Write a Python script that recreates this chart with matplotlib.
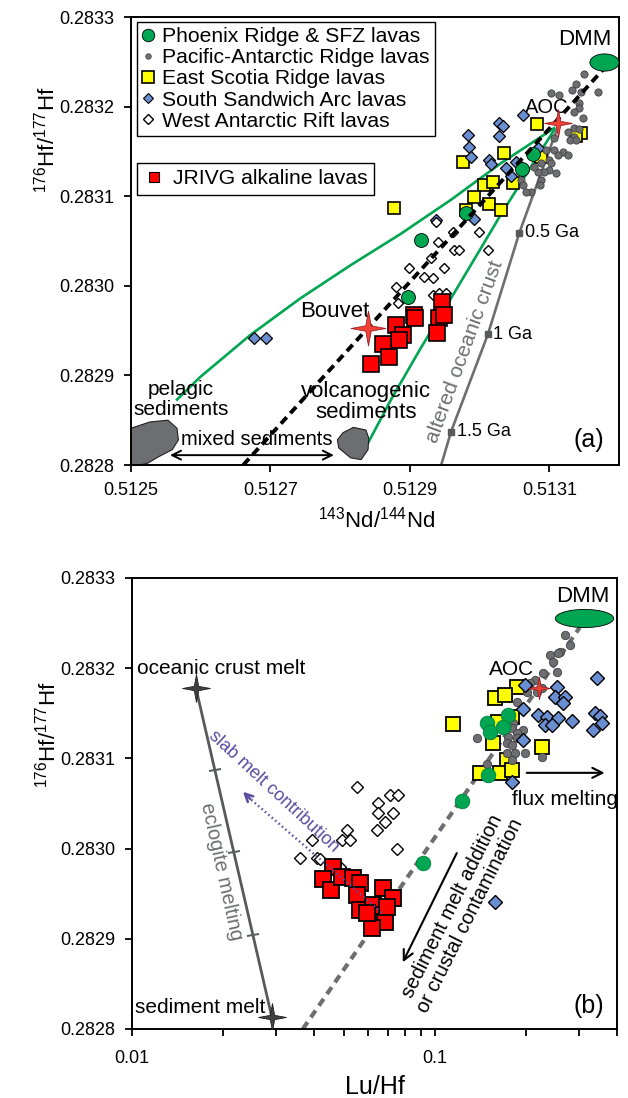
import numpy as np
import matplotlib
matplotlib.use('Agg')
import matplotlib.pyplot as plt
from matplotlib.lines import Line2D
from matplotlib.path import Path
from matplotlib.patches import Polygon
from matplotlib.markers import MarkerStyle
from matplotlib.transforms import Affine2D
from matplotlib.ticker import FormatStrFormatter, LogLocator, NullFormatter

plt.rcParams['font.family'] = ['Liberation Sans', 'DejaVu Sans']
plt.rcParams['mathtext.default'] = 'regular'

GREEN = '#00A651'
GREY = '#6D6E71'
DGREY = '#58595B'
YELLOW = '#FFFF00'
BLUE = '#6A8ED2'
RED = '#FF0000'
STAR_RED = '#EF4136'
PURPLE = '#5B4DA0'

# ---------------- panel (a): 143Nd/144Nd vs 176Hf/177Hf ----------------
phx_nd = [0.513076, 0.513061, 0.512981, 0.512916, 0.512897]
phx_hf = [0.283147, 0.283130, 0.283081, 0.283051, 0.282987]

par_nd = [0.513150, 0.513139, 0.513132, 0.513146, 0.513170, 0.513103, 0.513114, 0.513142,
          0.513143, 0.513135, 0.513149, 0.513136, 0.513142, 0.513127, 0.513135, 0.513129,
          0.513139, 0.513107, 0.513107, 0.513120, 0.513127, 0.513113, 0.513096, 0.513099,
          0.513103, 0.513088, 0.513100, 0.513110, 0.513093, 0.513084, 0.513088, 0.513086,
          0.513074, 0.513060, 0.513063, 0.513067, 0.513078]
par_hf = [0.283236, 0.283225, 0.283219, 0.283216, 0.283216, 0.283215, 0.283213, 0.283204,
          0.283198, 0.283194, 0.283187, 0.283176, 0.283175, 0.283172, 0.283166, 0.283163,
          0.283163, 0.283165, 0.283152, 0.283149, 0.283146, 0.283146, 0.283152, 0.283140,
          0.283137, 0.283137, 0.283129, 0.283126, 0.283127, 0.283127, 0.283118, 0.283112,
          0.283105, 0.283118, 0.283112, 0.283105, 0.283133]

esr_nd = [0.513083, 0.513145, 0.513139, 0.513035, 0.513088, 0.512976, 0.513006, 0.513019,
          0.513048, 0.512992, 0.513014, 0.513031, 0.512877, 0.512981]
esr_hf = [0.283181, 0.283171, 0.283167, 0.283148, 0.283144, 0.283138, 0.283112, 0.283116,
          0.283115, 0.283099, 0.283091, 0.283085, 0.283087, 0.283085]

ssa_nd = [0.513063, 0.513028, 0.513034, 0.513028, 0.512983, 0.512985, 0.512988, 0.513014,
          0.513017, 0.513038, 0.513052, 0.513045, 0.513084, 0.512937, 0.512992, 0.512676,
          0.512693]
ssa_hf = [0.283191, 0.283182, 0.283178, 0.283167, 0.283168, 0.283155, 0.283144, 0.283140,
          0.283136, 0.283131, 0.283138, 0.283123, 0.283154, 0.283073, 0.283075, 0.282942,
          0.282942]

war_nd = [0.512937, 0.512962, 0.512999, 0.512940, 0.512963, 0.512970, 0.513012, 0.512930,
          0.512899, 0.512949, 0.512933, 0.512920, 0.512880, 0.512933, 0.512942, 0.512952,
          0.512883]
war_hf = [0.283071, 0.283060, 0.283060, 0.283049, 0.283040, 0.283040, 0.283040, 0.283031,
          0.283020, 0.283020, 0.283009, 0.283010, 0.282999, 0.282990, 0.282992, 0.282992,
          0.282981]

jr_nd = [0.512946, 0.512942, 0.512949, 0.512939, 0.512906, 0.512907, 0.512880, 0.512890,
         0.512884, 0.512861, 0.512870, 0.512844]
jr_hf = [0.282982, 0.282964, 0.282967, 0.282947, 0.282967, 0.282964, 0.282956, 0.282945,
         0.282940, 0.282935, 0.282921, 0.282913]

# mixing lines / reference components
mix_nd = [0.512661, 0.513192]
mix_hf = [0.282800, 0.283254]
pel_curve_nd = [0.513107, 0.513031, 0.512959, 0.512887, 0.512815, 0.512743, 0.512671, 0.512599, 0.512566]
pel_curve_hf = [0.283176, 0.283137, 0.283096, 0.283058, 0.283023, 0.282986, 0.282945, 0.282898, 0.282873]
vol_curve_nd = [0.513107, 0.513031, 0.512959, 0.512916, 0.512873, 0.512841]
vol_curve_hf = [0.283174, 0.283080, 0.282986, 0.282931, 0.282873, 0.282826]
aoc_line_nd = [0.513113, 0.513057, 0.513012, 0.512959, 0.512945]
aoc_line_hf = [0.283179, 0.283059, 0.282946, 0.282837, 0.282800]
age_nd = [0.513057, 0.513012, 0.512959]
age_hf = [0.283059, 0.282946, 0.282837]
age_labels = ['0.5 Ga', '1 Ga', '1.5 Ga']
pel_nd = [0.51250, 0.512527, 0.512553, 0.512566, 0.512568, 0.512559, 0.512539, 0.512524, 0.512513, 0.51250]
pel_hf = [0.282841, 0.282848, 0.282850, 0.282841, 0.282828, 0.282817, 0.282809, 0.282802, 0.282800, 0.282800]
vol_nd = [0.512804, 0.512819, 0.512837, 0.512841, 0.512840, 0.512830, 0.512815, 0.512798, 0.512796]
vol_hf = [0.282836, 0.282842, 0.282839, 0.282830, 0.282817, 0.282806, 0.282808, 0.282819, 0.282828]
mixsed_nd = [0.512556, 0.512791]
mixsed_hf = 0.282811
dmm_a = (0.513178, 0.283250)
aoc_a = (0.513113, 0.283182)
bouvet = (0.512840, 0.282953)

# ---------------- panel (b): Lu/Hf vs 176Hf/177Hf ----------------
phx_luhf = [0.1484, 0.1518, 0.1741, 0.1676, 0.1495, 0.1227, 0.0913]
phx_hf_b = [0.283139, 0.283129, 0.283148, 0.283135, 0.283082, 0.283053, 0.282984]

esr_luhf = [0.1864, 0.1577, 0.1701, 0.1146, 0.1614, 0.1795, 0.1553, 0.2254, 0.1728, 0.1407,
            0.1638, 0.1795]
esr_hf_b = [0.283179, 0.283167, 0.283170, 0.283138, 0.283140, 0.283146, 0.283117, 0.283113,
            0.283098, 0.283084, 0.283084, 0.283087]

ssa_luhf = [0.3421, 0.1981, 0.2526, 0.2488, 0.2683, 0.2643, 0.1951, 0.2187, 0.2341, 0.2545,
            0.2830, 0.2306, 0.2432, 0.3370, 0.3500, 0.3319, 0.3553, 0.1951, 0.1795, 0.1577]
ssa_hf_b = [0.283189, 0.283181, 0.283179, 0.283168, 0.283168, 0.283161, 0.283155, 0.283148,
            0.283146, 0.283145, 0.283141, 0.283137, 0.283137, 0.283150, 0.283147, 0.283132,
            0.283139, 0.283120, 0.283074, 0.282941]

par_luhf = [0.2683, 0.2787, 0.2584, 0.2395, 0.2545, 0.2450, 0.2526, 0.2271, 0.2137, 0.2058,
            0.2254, 0.2011, 0.2170, 0.1864, 0.1808, 0.1951, 0.1795, 0.1864, 0.1741, 0.1375,
            0.1728, 0.1864, 0.1795, 0.1728, 0.1836, 0.1981, 0.2254, 0.1484, 0.1795]
par_hf_b = [0.283237, 0.283226, 0.283218, 0.283215, 0.283217, 0.283207, 0.283196, 0.283195,
            0.283187, 0.283184, 0.283178, 0.283174, 0.283174, 0.283163, 0.283139, 0.283131,
            0.283134, 0.283128, 0.283124, 0.283123, 0.283117, 0.283123, 0.283115, 0.283106,
            0.283106, 0.283106, 0.283102, 0.283094, 0.283098]

war_luhf = [0.05531, 0.07106, 0.07551, 0.06488, 0.06488, 0.07270, 0.06841, 0.06439, 0.05127,
            0.04936, 0.05245, 0.03931, 0.07494, 0.03588, 0.04083, 0.04177, 0.04862]
war_hf_b = [0.283068, 0.283059, 0.283059, 0.283051, 0.283039, 0.283039, 0.283029, 0.283021,
            0.283021, 0.283010, 0.283010, 0.283010, 0.283000, 0.282990, 0.282990, 0.282988,
            0.282980]

jr_luhf = [0.04610, 0.04274, 0.04541, 0.04936, 0.05366, 0.05658, 0.05531, 0.05658, 0.06246,
           0.06246, 0.06738, 0.07270, 0.06841, 0.06199, 0.06946, 0.05968]
jr_hf_b = [0.282980, 0.282966, 0.282954, 0.282969, 0.282967, 0.282962, 0.282949, 0.282932,
           0.282937, 0.282926, 0.282956, 0.282945, 0.282919, 0.282912, 0.282935, 0.282929]

mantle_luhf = [0.0367, 0.3007]
mantle_hf = [0.282800, 0.283245]
eclog_luhf = [0.01629, 0.02901]
eclog_hf = [0.283178, 0.282813]
eclog_tick_luhf = [0.01882, 0.02174, 0.02512]
eclog_tick_hf = [0.283087, 0.282996, 0.282904]
slab_luhf = [0.06688, 0.02464]
slab_hf = [0.282929, 0.283055]
slab_head = (0.02328, 0.283063)
flux_luhf = [0.2011, 0.3635]
flux_hf = 0.283084
sedadd_luhf = [0.1182, 0.07843]
sedadd_hf = [0.282995, 0.282874]
dmm_b = (0.3099, 0.283256)
aoc_b = (0.2202, 0.283178)

hf_ticks = [0.2828, 0.2829, 0.2830, 0.2831, 0.2832, 0.2833]


def star_path(inner=0.22):
    ang = np.pi / 2 + np.arange(8) * np.pi / 4
    r = np.where(np.arange(8) % 2 == 0, 1.0, inner)
    v = np.column_stack([r * np.cos(ang), r * np.sin(ang)])
    v = np.vstack([v, v[:1]])
    return Path(v, [Path.MOVETO] + [Path.LINETO] * 7 + [Path.CLOSEPOLY])


def ellipse_path(aspect):
    t = np.linspace(0, 2 * np.pi, 80)
    return Path(np.column_stack([np.cos(t), aspect * np.sin(t)]), closed=True)


STAR = star_path()


def style_axes(ax, xpad):
    for s in ax.spines.values():
        s.set_linewidth(1.4)
    ax.tick_params(which='both', direction='out', length=5, width=1.3,
                   labelsize=13, top=False, right=False)
    ax.tick_params(axis='y', pad=7)
    ax.tick_params(axis='x', which='both', pad=xpad)
    ax.set_yticks(hf_ticks)
    ax.yaxis.set_major_formatter(FormatStrFormatter('%.4f'))


fig = plt.figure(figsize=(6.28, 10.98), dpi=100)
ax1 = fig.add_axes([131 / 628, 1 - 465 / 1098, 488 / 628, 448 / 1098])
ax2 = fig.add_axes([131.7 / 628, 1 - 1029 / 1098, 485.5 / 628, 451 / 1098])

# ----- panel (a) -----
ax1.set_xlim(0.5125, 0.5132)
ax1.set_ylim(0.2828, 0.2833)
style_axes(ax1, 7)
ax1.set_xticks([0.5125, 0.5127, 0.5129, 0.5131])
ax1.xaxis.set_major_formatter(FormatStrFormatter('%.4f'))

ax1.plot(pel_curve_nd, pel_curve_hf, color=GREEN, lw=1.9, zorder=2)
ax1.plot(vol_curve_nd, vol_curve_hf, color=GREEN, lw=1.9, zorder=2)
ax1.plot(aoc_line_nd, aoc_line_hf, color=GREY, lw=1.9, zorder=2)
ax1.plot(age_nd, age_hf, 's', color=DGREY, ms=4.5, zorder=3)
for x, y, lab in zip(age_nd, age_hf, age_labels):
    ax1.annotate(lab, (x, y), xytext=(4, 0), textcoords='offset points',
                 fontsize=13, va='center', ha='left')
ax1.add_patch(Polygon(np.column_stack([pel_nd, pel_hf]), closed=True, fc=GREY,
                      ec='#231F20', lw=0.8, zorder=2))
ax1.add_patch(Polygon(np.column_stack([vol_nd, vol_hf]), closed=True, fc=GREY,
                      ec='#231F20', lw=0.8, zorder=2))
ax1.annotate('', xy=(mixsed_nd[1], mixsed_hf), xytext=(mixsed_nd[0], mixsed_hf),
             arrowprops=dict(arrowstyle='<->', lw=1.4, color='k', mutation_scale=16,
                             shrinkA=0, shrinkB=0), zorder=3)

ax1.plot(esr_nd, esr_hf, 's', mfc=YELLOW, mec='k', mew=1.2, ms=8.5, zorder=4)
ax1.plot(ssa_nd, ssa_hf, 'D', mfc=BLUE, mec='k', mew=0.9, ms=6.0, zorder=5)
ax1.plot(par_nd, par_hf, 'o', mfc=GREY, mec='#414042', mew=0.6, ms=5.2, zorder=5)
ax1.plot(phx_nd, phx_hf, 'o', mfc=GREEN, mec='k', mew=0.6, ms=10, zorder=6)
ax1.plot(war_nd, war_hf, 'D', mfc='white', mec='k', mew=1.0, ms=5.6, zorder=5)
ax1.plot(mix_nd, mix_hf, color='k', lw=2.8, ls=(0, (2.2, 1.4)), zorder=6)
ax1.plot(jr_nd, jr_hf, 's', mfc=RED, mec='k', mew=1.2, ms=11, zorder=7)
ax1.plot(*dmm_a, marker=ellipse_path(0.59), ms=21, mfc=GREEN, mec='k', mew=0.6, zorder=7)
ax1.plot(*aoc_a, marker=STAR, ms=20, mfc=STAR_RED, mec='#9E1F24', mew=0.6, zorder=8)
ax1.plot(*bouvet, marker=STAR, ms=25, mfc=STAR_RED, mec='#9E1F24', mew=0.6, zorder=8)

ax1.text(0.930, 0.949, 'DMM', transform=ax1.transAxes, fontsize=16, ha='center', va='center')
ax1.text(0.852, 0.797, 'AOC', transform=ax1.transAxes, fontsize=14.5, ha='center', va='center')
ax1.text(0.418, 0.342, 'Bouvet', transform=ax1.transAxes, fontsize=16, ha='center', va='center')
ax1.text(0.102, 0.147, 'pelagic\nsediments', transform=ax1.transAxes, fontsize=15,
         ha='center', va='center', linespacing=1.05)
ax1.text(0.4816, 0.1406, 'volcanogenic\nsediments', transform=ax1.transAxes, fontsize=16,
         ha='center', va='center', linespacing=1.0)
ax1.text(0.258, 0.056, 'mixed sediments', transform=ax1.transAxes, fontsize=14.5,
         ha='center', va='center')
ax1.text(0.684, 0.252, 'altered oceanic crust', transform=ax1.transAxes, fontsize=15,
         color=GREY, ha='center', va='center', rotation=70, rotation_mode='anchor')
ax1.text(0.9385, 0.056, '(a)', transform=ax1.transAxes, fontsize=18, ha='center', va='center')

h = [Line2D([], [], ls='none', marker='o', mfc=GREEN, mec='k', mew=0.6, ms=9),
     Line2D([], [], ls='none', marker='o', mfc=GREY, mec='#414042', mew=0.5, ms=4),
     Line2D([], [], ls='none', marker='s', mfc=YELLOW, mec='k', mew=1.2, ms=8),
     Line2D([], [], ls='none', marker='D', mfc=BLUE, mec='k', mew=0.8, ms=5),
     Line2D([], [], ls='none', marker='D', mfc='white', mec='k', mew=1.0, ms=5)]
labels = ['Phoenix Ridge & SFZ lavas', 'Pacific-Antarctic Ridge lavas', 'East Scotia Ridge lavas',
          'South Sandwich Arc lavas', 'West Antarctic Rift lavas']
leg1 = ax1.legend(h, labels, loc='upper left', bbox_to_anchor=(0.012, 0.989), borderaxespad=0,
                  fontsize=15.2, frameon=True, fancybox=False, framealpha=1, edgecolor='k',
                  handlelength=0.6, handletextpad=0.35, labelspacing=0.1, borderpad=0.25)
leg1.get_frame().set_linewidth(1.0)
ax1.add_artist(leg1)
h2 = [Line2D([], [], ls='none', marker='s', mfc=RED, mec='k', mew=0.8, ms=6.5)]
leg2 = ax1.legend(h2, ['JRIVG alkaline lavas'], loc='upper left', bbox_to_anchor=(0.012, 0.674),
                  borderaxespad=0, fontsize=15.2, frameon=True, fancybox=False, framealpha=1,
                  edgecolor='k', handlelength=1.0, handletextpad=0.4, borderpad=0.3)
leg2.get_frame().set_linewidth(1.0)

ax1.set_xlabel('$^{143}$Nd/$^{144}$Nd', fontsize=16)
ax1.set_ylabel('$^{176}$Hf/$^{177}$Hf', fontsize=16)
ax1.xaxis.set_label_coords(0.504, -0.092)
ax1.yaxis.set_label_coords(-0.146, 0.725)

# ----- panel (b) -----
ax2.set_xscale('log')
ax2.set_xlim(0.01, 0.4)
ax2.set_ylim(0.2828, 0.2833)
style_axes(ax2, 10)
ax2.set_xticks([0.01, 0.1], ['0.01', '0.1'])
ax2.xaxis.set_minor_locator(LogLocator(base=10, subs=np.arange(2, 10)))
ax2.xaxis.set_minor_formatter(NullFormatter())

ax2.plot(mantle_luhf, mantle_hf, color=GREY, lw=3.0, ls=(0, (2.0, 1.4)), zorder=2)
ax2.plot(eclog_luhf, eclog_hf, color=DGREY, lw=2.0, zorder=2)
tick_mk = MarkerStyle('_', transform=Affine2D().rotate_deg(13))
ax2.plot(eclog_tick_luhf, eclog_tick_hf, ls='none', marker=tick_mk, ms=9, mew=1.4,
         color=DGREY, zorder=2)
ax2.plot(eclog_luhf, eclog_hf, ls='none', marker=STAR, ms=20, mfc='#414042', mec='#231F20',
         mew=0.6, zorder=3)

ax2.plot(esr_luhf, esr_hf_b, 's', mfc=YELLOW, mec='k', mew=1.3, ms=10.5, zorder=3)
ax2.plot(par_luhf, par_hf_b, 'o', mfc=GREY, mec='#414042', mew=0.6, ms=6, zorder=4)
ax2.plot(ssa_luhf, ssa_hf_b, 'D', mfc=BLUE, mec='k', mew=1.0, ms=7, zorder=5)
ax2.plot(phx_luhf, phx_hf_b, 'o', mfc=GREEN, mec='#00803D', mew=0.6, ms=10.5, zorder=6)
ax2.plot(war_luhf, war_hf_b, 'D', mfc='white', mec='k', mew=1.0, ms=6.5, zorder=5)
ax2.plot(jr_luhf, jr_hf_b, 's', mfc=RED, mec='k', mew=1.3, ms=12, zorder=7)
ax2.plot(slab_luhf, slab_hf, color=PURPLE, lw=1.8, ls=(0, (0.6, 1.2)), zorder=8)
ax2.annotate('', xy=slab_head, xytext=(slab_luhf[1], slab_hf[1]),
             arrowprops=dict(arrowstyle='->', lw=1.8, color=PURPLE, mutation_scale=14,
                             shrinkA=0, shrinkB=0), zorder=8)
ax2.plot(*dmm_b, marker=ellipse_path(0.31), ms=42, mfc=GREEN, mec='k', mew=0.6, zorder=7)
ax2.plot(*aoc_b, marker=STAR, ms=16, mfc=STAR_RED, mec='#9E1F24', mew=0.6, zorder=8)
ax2.annotate('', xy=(flux_luhf[1], flux_hf), xytext=(flux_luhf[0], flux_hf),
             arrowprops=dict(arrowstyle='->', lw=1.5, color='k', mutation_scale=18,
                             shrinkA=0, shrinkB=0), zorder=8)
ax2.annotate('', xy=(sedadd_luhf[1], sedadd_hf[1]), xytext=(sedadd_luhf[0], sedadd_hf[0]),
             arrowprops=dict(arrowstyle='->', lw=1.5, color='k', mutation_scale=18,
                             shrinkA=0, shrinkB=0), zorder=8)

ax2.text(0.9297, 0.960, 'DMM', transform=ax2.transAxes, fontsize=16, ha='center', va='center')
ax2.text(0.7833, 0.798, 'AOC', transform=ax2.transAxes, fontsize=15, ha='center', va='center')
ax2.text(0.011, 0.800, 'oceanic crust melt', transform=ax2.transAxes, fontsize=15,
         ha='left', va='center')
ax2.text(0.007, 0.0466, 'sediment melt', transform=ax2.transAxes, fontsize=15,
         ha='left', va='center')
ax2.text(0.8925, 0.508, 'flux melting', transform=ax2.transAxes, fontsize=15,
         ha='center', va='center')
ax2.text(0.942, 0.051, '(b)', transform=ax2.transAxes, fontsize=18, ha='center', va='center')
ax2.text(0.293, 0.5277, 'slab melt contribution', transform=ax2.transAxes, fontsize=13,
         color=PURPLE, ha='center', va='center', rotation=-42.7, rotation_mode='anchor')
ax2.text(0.1856, 0.350, 'eclogite melting', transform=ax2.transAxes, fontsize=14.5,
         color=GREY, ha='center', va='center', rotation=-77.6, rotation_mode='anchor')
ax2.text(0.679, 0.2616, 'sediment melt addition\nor crustal contamination',
         transform=ax2.transAxes, fontsize=14.5, ha='center', va='center',
         multialignment='center', linespacing=1.1, rotation=63.4, rotation_mode='anchor')

ax2.set_xlabel('Lu/Hf', fontsize=18)
ax2.set_ylabel('$^{176}$Hf/$^{177}$Hf', fontsize=16)
ax2.xaxis.set_label_coords(0.501, -0.102)
ax2.yaxis.set_label_coords(-0.146, 0.652)

fig.savefig('out.png', dpi=100)
